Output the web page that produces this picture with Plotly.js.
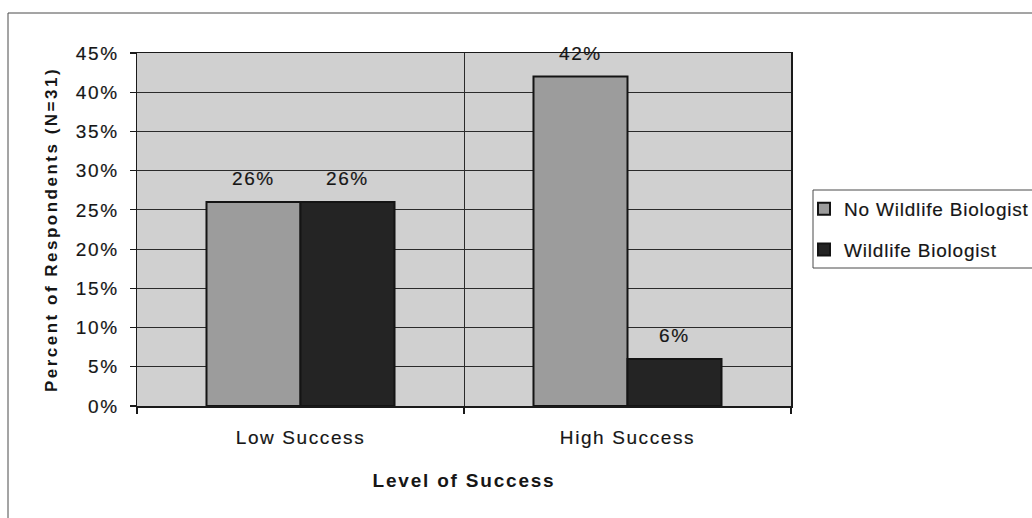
<!DOCTYPE html>
<html>
<head>
<meta charset="utf-8">
<script src="https://cdn.plot.ly/plotly-3.0.1.min.js"></script>
<style>
  html, body { margin: 0; padding: 0; background: #ffffff; }
  #chart { width: 1032px; height: 518px; }
  /* wide, spaced-out lettering of the original document fonts */
  .xtick text, .ytick text, .annotation-text { letter-spacing: 1.6px; }
  .g-xtitle text { letter-spacing: 1.8px; }
  .g-ytitle text { letter-spacing: 2.5px; }
  .legendtext { letter-spacing: 0.8px; }
  /* slightly heavier strokes for the regular-weight text */
  .xtick text, .ytick text, .annotation-text, .legendtext {
    stroke: #161616; stroke-width: 0.18px; paint-order: stroke;
  }
</style>
</head>
<body>
<div id="chart"></div>
<script>
// Share of respondents by level of success
const categories = ['Low Success', 'High Success'];
const seriesNames = ['No Wildlife Biologist', 'Wildlife Biologist'];
const noBiologist = [0.26, 0.42];
const withBiologist = [0.26, 0.06];
const yTickValues = [0, 0.05, 0.10, 0.15, 0.20, 0.25, 0.30, 0.35, 0.40, 0.45];

const seriesValues = [noBiologist, withBiologist];
const seriesColors = ['#9c9c9c', '#242424'];
const bargap = 0.425;
const textColor = '#161616';

const traces = seriesValues.map((vals, s) => ({
  type: 'bar',
  name: seriesNames[s],
  legendgroup: 'g' + s,
  x: categories,
  y: vals,
  marker: { color: seriesColors[s], line: { color: '#141414', width: 2 } },
  hoverinfo: 'skip'
}));

// value labels above each bar, placed at the bar's centre within its group
const barWidth = (1 - bargap) / seriesValues.length;
const annotations = [];
seriesValues.forEach((vals, s) => {
  vals.forEach((v, i) => {
    annotations.push({
      x: i + (s - (seriesValues.length - 1) / 2) * barWidth,
      y: v,
      xref: 'x', yref: 'y',
      text: Math.round(v * 100) + '%',
      showarrow: false,
      yanchor: 'bottom',
      yshift: 11,
      font: { size: 19, color: textColor }
    });
  });
});

const W = 1032, H = 518;
const M = { l: 137, r: 241, t: 53, b: 112 };
const px2x = p => (p - M.l) / (W - M.l - M.r);
const px2y = p => (H - M.b - p) / (H - M.t - M.b);

const shapes = [
  // outer chart frame
  { type: 'rect', xref: 'paper', yref: 'paper', layer: 'below',
    x0: px2x(8), x1: px2x(1045), y0: px2y(530), y1: px2y(13),
    line: { color: '#4a4a4a', width: 1 }, fillcolor: 'rgba(0,0,0,0)' },
  // legend frame
  { type: 'rect', xref: 'paper', yref: 'paper',
    x0: px2x(813), x1: px2x(1045), y0: px2y(268), y1: px2y(190),
    line: { color: '#4a4a4a', width: 1 }, fillcolor: 'rgba(0,0,0,0)' }
];

const layout = {
  width: W, height: H,
  margin: Object.assign({ autoexpand: false }, M),
  paper_bgcolor: '#ffffff',
  plot_bgcolor: '#d0d0d0',
  barmode: 'group',
  bargap: bargap,
  bargroupgap: 0,
  font: { family: 'Liberation Sans, Arial, sans-serif', size: 19, color: textColor },
  showlegend: true,
  legend: {
    x: px2x(804), xanchor: 'left',
    y: px2y(190), yanchor: 'top',
    bgcolor: 'rgba(0,0,0,0)', borderwidth: 0,
    traceorder: 'grouped', tracegroupgap: 13,
    font: { size: 19, color: textColor }
  },
  xaxis: {
    type: 'category',
    tickson: 'boundaries',
    showgrid: true, gridcolor: '#2a2a2a', gridwidth: 1,
    ticks: 'outside', ticklen: 6, tickcolor: '#1a1a1a', tickwidth: 1.2,
    showline: true, linecolor: '#1a1a1a', linewidth: 1.5, mirror: true,
    ticklabelstandoff: 14,
    automargin: false,
    title: { text: 'Level of Success', font: { size: 19, weight: 'bold' }, standoff: 26 }
  },
  yaxis: {
    range: [0, 0.45],
    tickvals: yTickValues,
    tickformat: '.0%',
    showgrid: true, gridcolor: '#2a2a2a', gridwidth: 1,
    zeroline: false,
    ticks: 'outside', ticklen: 6, tickcolor: '#1a1a1a', tickwidth: 1.2,
    showline: true, linecolor: '#1a1a1a', linewidth: 1.5, mirror: true,
    ticklabelstandoff: 7,
    automargin: false,
    title: { text: 'Percent of Respondents (N=31)', font: { size: 17, weight: 'bold' }, standoff: 14 }
  },
  annotations: annotations,
  shapes: shapes
};

Plotly.newPlot('chart', traces, layout, { staticPlot: true, displayModeBar: false });
</script>
</body>
</html>
